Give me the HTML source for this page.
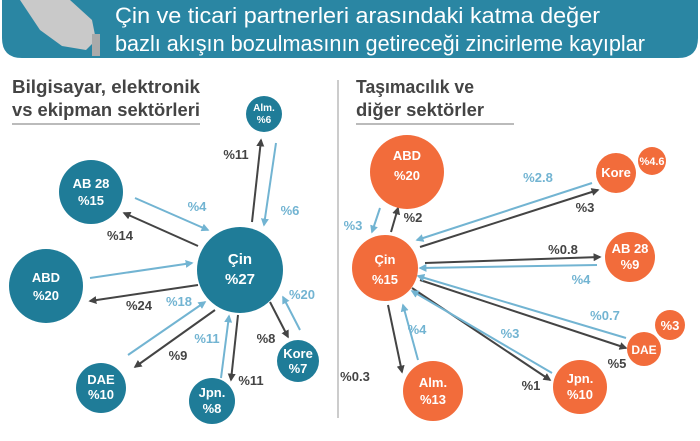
<!DOCTYPE html>
<html><head><meta charset="utf-8"><style>
html,body{margin:0;padding:0;background:#fff;}
svg{display:block;font-family:"Liberation Sans",sans-serif;}
</style></head><body>
<svg width="700" height="441" viewBox="0 0 700 441" xmlns="http://www.w3.org/2000/svg">
<defs>
<marker id="d" viewBox="0 0 10 10" refX="8" refY="5" markerWidth="4" markerHeight="4" orient="auto"><path d="M0,0L10,5L0,10z" fill="#444"/></marker>
<marker id="l" viewBox="0 0 10 10" refX="8" refY="5" markerWidth="4" markerHeight="4" orient="auto"><path d="M0,0L10,5L0,10z" fill="#72b4d2"/></marker>
</defs>
<path d="M2,0H698V38Q698,58 678,58H22Q2,58 2,38Z" fill="#2a86a3"/>
<path d="M20,0L70,0L92,20L96,40L86,50L62,46L40,30Z" fill="#c9c9c9"/>
<rect x="92" y="34" width="8" height="22" fill="#aaa"/>
<text x="115" y="23" font-size="22" fill="#fff" textLength="485" lengthAdjust="spacingAndGlyphs">Çin ve ticari partnerleri arasındaki katma değer</text>
<text x="115" y="51" font-size="22" fill="#fff" textLength="530" lengthAdjust="spacingAndGlyphs">bazlı akışın bozulmasının getireceği zincirleme kayıplar</text>
<g font-size="18" fill="#444" font-weight="bold">
<text x="12" y="93" textLength="188" lengthAdjust="spacingAndGlyphs">Bilgisayar, elektronik</text>
<text x="12" y="116" textLength="188" lengthAdjust="spacingAndGlyphs">vs ekipman sektörleri</text>
<text x="356" y="93" textLength="118" lengthAdjust="spacingAndGlyphs">Taşımacılık ve</text>
<text x="356" y="116" textLength="128" lengthAdjust="spacingAndGlyphs">diğer sektörler</text>
</g>
<line x1="12" y1="124" x2="200" y2="124" stroke="#777" stroke-width="1"/>
<line x1="356" y1="124" x2="514" y2="124" stroke="#777" stroke-width="1"/>
<line x1="338" y1="80" x2="338" y2="418" stroke="#999" stroke-width="1"/>

<g stroke-width="2" fill="none">
<line x1="252" y1="222" x2="261" y2="140" stroke="#444" marker-end="url(#d)"/>
<line x1="276" y1="143" x2="264" y2="225" stroke="#72b4d2" marker-end="url(#l)"/>
<line x1="135" y1="198" x2="208" y2="230" stroke="#72b4d2" marker-end="url(#l)"/>
<line x1="198" y1="246" x2="124" y2="213" stroke="#444" marker-end="url(#d)"/>
<line x1="90" y1="278" x2="192" y2="263" stroke="#72b4d2" marker-end="url(#l)"/>
<line x1="198" y1="285" x2="90" y2="301" stroke="#444" marker-end="url(#d)"/>
<line x1="128" y1="355" x2="205" y2="302" stroke="#72b4d2" marker-end="url(#l)"/>
<line x1="215" y1="310" x2="135" y2="367" stroke="#444" marker-end="url(#d)"/>
<line x1="221" y1="378" x2="229" y2="316" stroke="#72b4d2" marker-end="url(#l)"/>
<line x1="238" y1="315" x2="231" y2="380" stroke="#444" marker-end="url(#d)"/>
<line x1="270" y1="302" x2="288" y2="337" stroke="#444" marker-end="url(#d)"/>
<line x1="300" y1="330" x2="283" y2="297" stroke="#72b4d2" marker-end="url(#l)"/>

<line x1="380" y1="208" x2="372" y2="232" stroke="#72b4d2" marker-end="url(#l)"/>
<line x1="391" y1="232" x2="398" y2="208" stroke="#444" marker-end="url(#d)"/>
<line x1="592" y1="183" x2="417" y2="240" stroke="#72b4d2" marker-end="url(#l)"/>
<line x1="420" y1="247" x2="598" y2="190" stroke="#444" marker-end="url(#d)"/>
<line x1="425" y1="263" x2="600" y2="257" stroke="#444" marker-end="url(#d)"/>
<line x1="597" y1="265" x2="420" y2="268" stroke="#72b4d2" marker-end="url(#l)"/>
<line x1="420" y1="280" x2="626" y2="348" stroke="#444" marker-end="url(#d)"/>
<line x1="626" y1="338" x2="418" y2="276" stroke="#72b4d2" marker-end="url(#l)"/>
<line x1="412" y1="288" x2="550" y2="380" stroke="#444" marker-end="url(#d)"/>
<line x1="552" y1="373" x2="412" y2="291" stroke="#72b4d2" marker-end="url(#l)"/>
<line x1="388" y1="305" x2="402" y2="372" stroke="#444" marker-end="url(#d)"/>
<line x1="418" y1="360" x2="403" y2="305" stroke="#72b4d2" marker-end="url(#l)"/>
</g>

<g fill="#1f7c98">
<circle cx="240" cy="270" r="43"/>
<circle cx="91" cy="192" r="32"/>
<circle cx="46" cy="286" r="37"/>
<circle cx="101" cy="388" r="25"/>
<circle cx="212" cy="401" r="23"/>
<circle cx="298" cy="361" r="21"/>
<circle cx="264" cy="114" r="18"/>
</g>
<g fill="#f26c3b">
<circle cx="385" cy="268" r="33"/>
<circle cx="407" cy="172" r="37"/>
<circle cx="616" cy="173" r="20"/>
<circle cx="652" cy="161" r="14"/>
<circle cx="630" cy="257" r="25"/>
<circle cx="644" cy="349" r="17"/>
<circle cx="670" cy="325" r="15"/>
<circle cx="580" cy="387" r="27"/>
<circle cx="433" cy="391" r="30"/>
</g>

<g fill="#fff" font-weight="bold" text-anchor="middle" font-size="13">
<text x="240" y="264" font-size="15">Çin</text><text x="240" y="284" font-size="15">%27</text>
<text x="91" y="188">AB 28</text><text x="91" y="205">%15</text>
<text x="46" y="282">ABD</text><text x="46" y="300">%20</text>
<text x="101" y="384">DAE</text><text x="101" y="399">%10</text>
<text x="212" y="397">Jpn.</text><text x="212" y="413">%8</text>
<text x="298" y="358">Kore</text><text x="298" y="373">%7</text>
<text x="264" y="111" font-size="10">Alm.</text><text x="264" y="123" font-size="10">%6</text>

<text x="385" y="264">Çin</text><text x="385" y="284">%15</text>
<text x="407" y="160">ABD</text><text x="407" y="180">%20</text>
<text x="616" y="177">Kore</text>
<text x="652" y="165" font-size="11">%4.6</text>
<text x="630" y="253">AB 28</text><text x="630" y="269">%9</text>
<text x="644" y="354" font-size="12">DAE</text>
<text x="670" y="330">%3</text>
<text x="580" y="383">Jpn.</text><text x="580" y="399">%10</text>
<text x="433" y="387">Alm.</text><text x="433" y="404">%13</text>
</g>

<g font-size="13" font-weight="bold" text-anchor="middle">
<g fill="#444">
<text x="236" y="159">%11</text><text x="120" y="240">%14</text><text x="139" y="310">%24</text>
<text x="178" y="360">%9</text><text x="251" y="385">%11</text><text x="266" y="343">%8</text>
<text x="413" y="222">%2</text><text x="585" y="212">%3</text><text x="563" y="254">%0.8</text>
<text x="617" y="368">%5</text><text x="531" y="390">%1</text><text x="355" y="381">%0.3</text>
</g>
<g fill="#72b4d2">
<text x="290" y="215">%6</text><text x="197" y="211">%4</text><text x="179" y="306">%18</text>
<text x="207" y="343">%11</text><text x="302" y="299">%20</text>
<text x="353" y="230">%3</text><text x="538" y="182">%2.8</text><text x="581" y="284">%4</text>
<text x="605" y="320">%0.7</text><text x="510" y="338">%3</text><text x="417" y="334">%4</text>
</g>
</g>
</svg>
</body></html>
